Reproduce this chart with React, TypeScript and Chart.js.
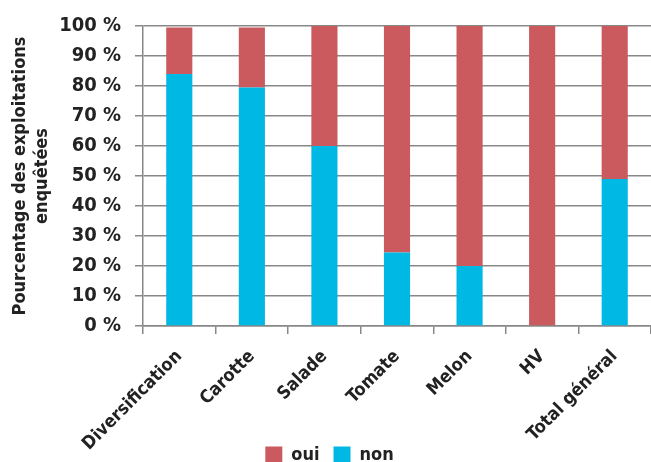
import React, { useEffect, useRef } from "react";
import { Chart, registerables } from "chart.js";

Chart.register(...registerables);

const categories = ["Diversification", "Carotte", "Salade", "Tomate", "Melon", "HV", "Total général"];
const nonValues = [84, 79.5, 60, 24.5, 20, 0, 49];
const ouiValues = [15.5, 20, 40, 75.5, 80, 100, 51];
const yTicks = [0, 10, 20, 30, 40, 50, 60, 70, 80, 90, 100];

const RED = "#CB5A5E";
const BLUE = "#00B8E4";
const FONT = "'DejaVu Sans Condensed', 'DejaVu Sans', sans-serif";

export default function App() {
  const ref = useRef<HTMLCanvasElement | null>(null);
  useEffect(() => {
    document.body.style.margin = "0";
    const ctx = ref.current!;
    const chart = new Chart(ctx, {
      type: "bar",
      data: {
        labels: categories,
        datasets: [
          { label: "non", data: nonValues, backgroundColor: BLUE, barPercentage: 0.36, categoryPercentage: 1 },
          { label: "oui", data: ouiValues, backgroundColor: RED, barPercentage: 0.36, categoryPercentage: 1 },
        ],
      },
      options: {
        animation: false,
        responsive: false,
        maintainAspectRatio: false,
        layout: { padding: { top: 6, right: 0, left: 8, bottom: -12 } },
        plugins: {
          tooltip: { enabled: false },
          legend: {
            position: "bottom",
            reverse: true,
            labels: {
              boxWidth: 17,
              boxHeight: 17,
              padding: 14,
              color: "#222",
              font: { family: FONT, size: 18, weight: "bold" },
            },
          },
        },
        scales: {
          x: {
            stacked: true,
            afterFit: (axis: any) => {
              axis.height = 106;
              // let the rotated labels run below the axis box, as in the reference
              axis._computeLabelArea = () => undefined;
            },
            grid: { drawOnChartArea: false, drawTicks: true, tickLength: 8, color: "#888", lineWidth: 1.5 },
            border: { color: "#888", width: 1.5 },
            ticks: {
              autoSkip: false,
              maxRotation: 45,
              minRotation: 45,
              color: "#222",
              padding: 12,
              font: { family: FONT, size: 18, weight: "bold" },
            },
          },
          y: {
            stacked: true,
            min: 0,
            max: 100,
            afterBuildTicks: (axis: any) => {
              axis.ticks = yTicks.map((v) => ({ value: v }));
            },
            afterFit: (axis: any) => {
              axis.width = 135;
            },
            grid: { color: "#888", lineWidth: 1.5, tickLength: 8 },
            border: { color: "#888", width: 1.5 },
            ticks: {
              autoSkip: false,
              color: "#222",
              padding: 14,
              font: { family: FONT, size: 20, weight: "bold" },
              callback: (v: any) => `${v} %`,
            },
            title: {
              display: true,
              text: ["Pourcentage des exploitations", "enquêtées"],
              color: "#222",
              padding: { top: 2, bottom: 2 },
              font: { family: FONT, size: 18, weight: "bold", lineHeight: 1.2 },
            },
          },
        },
      },
    });
    return () => chart.destroy();
  }, []);
  return (
    <div style={{ position: "fixed", left: 0, top: 0, width: 651, height: 462, background: "#fff" }}>
      <canvas ref={ref} width={651} height={462} style={{ width: 651, height: 462 }} />
    </div>
  );
}
